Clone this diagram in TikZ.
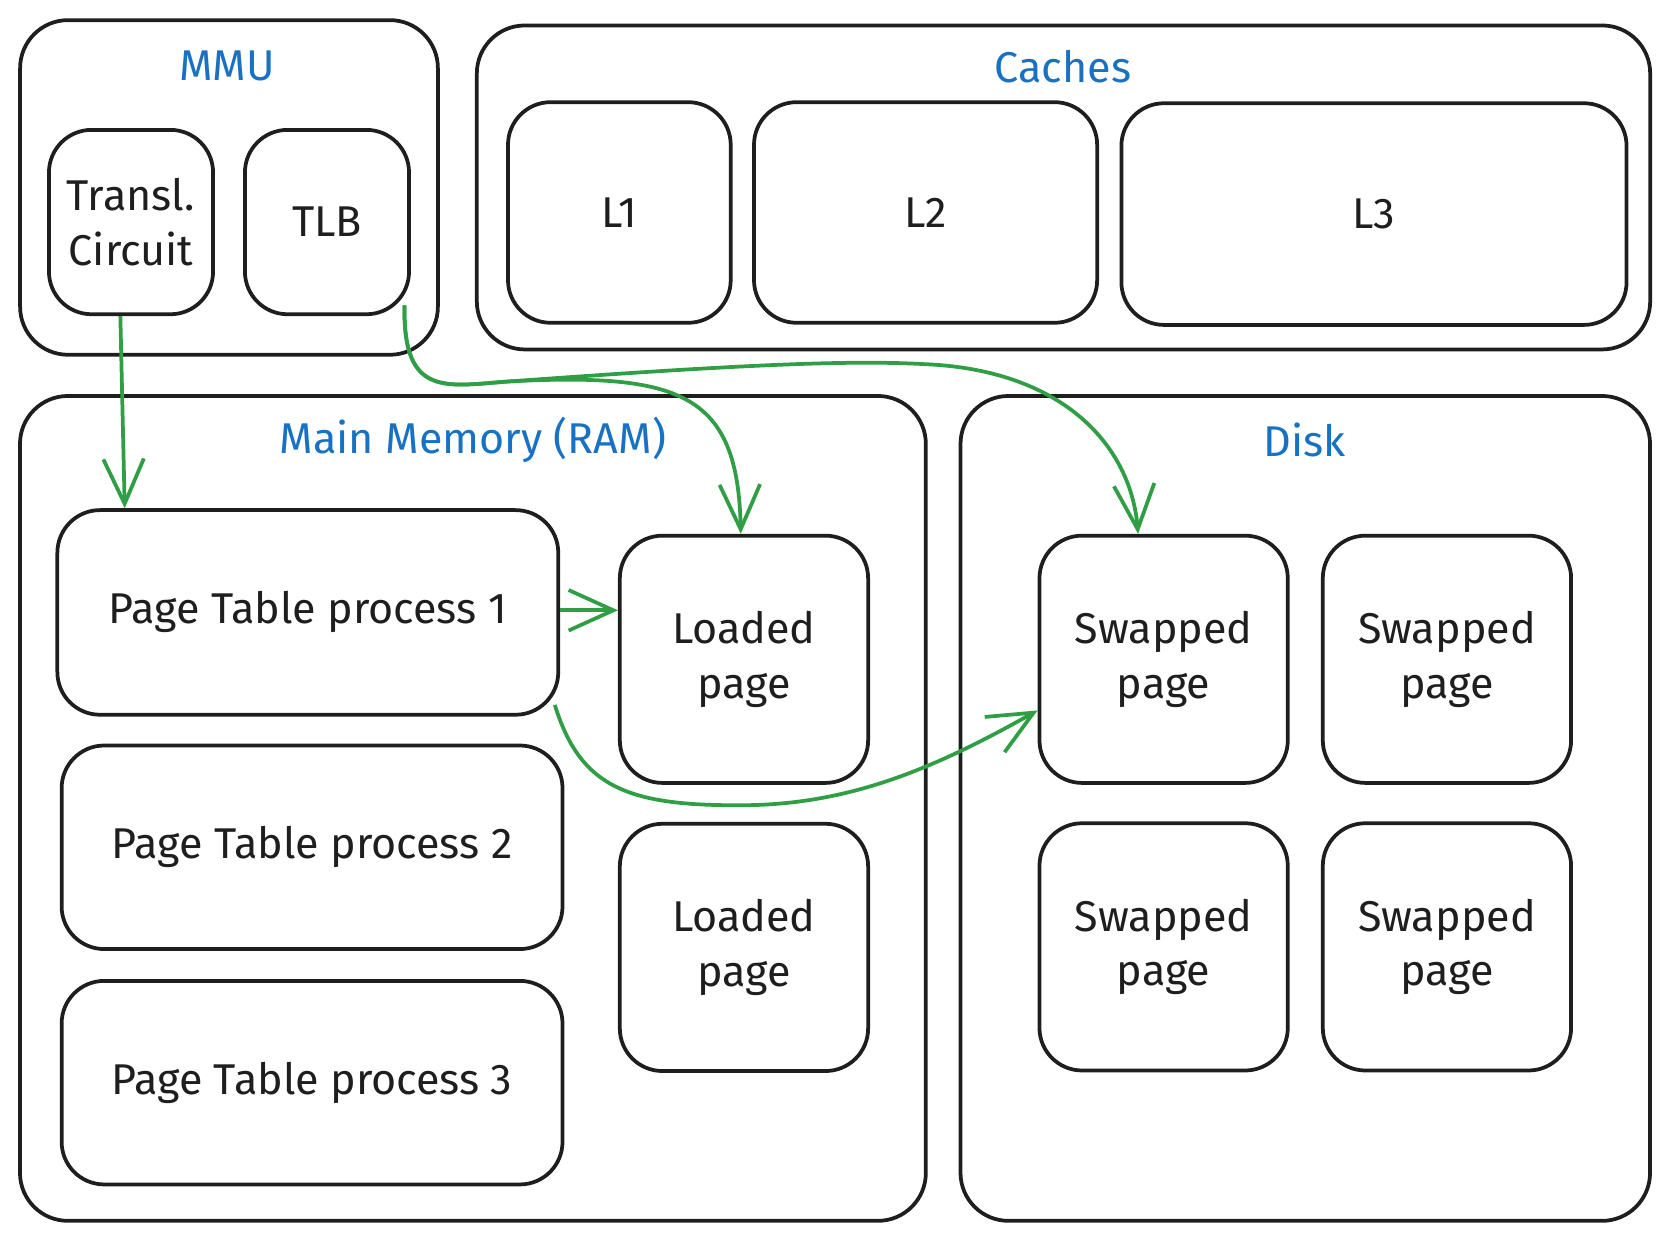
\documentclass[tikz,border=0pt]{standalone}
\usepackage{fontspec}
\setmainfont{Fira Sans}
\usepackage{tikz}
\usetikzlibrary{calc,arrows.meta}

\definecolor{inkblack}{HTML}{1E1E1E}
\definecolor{arrgreen}{HTML}{2F9E44}
\definecolor{titleblue}{HTML}{1971C2}

\tikzset{
    box/.style={draw=inkblack, text=inkblack, line width=1pt, rounded corners=0.4cm, align=center, inner sep=0pt, font=\fontsize{11.5}{14.5}\selectfont},
    group/.style={box, rounded corners=0.45cm},
    grouptitle/.style={text=titleblue, font=\fontsize{11.5}{14}\selectfont},
    arr/.style={-{Straight Barb[length=0.42cm,width=0.38cm]}, draw=arrgreen, line width=1pt},
}

\begin{document}
\begin{tikzpicture}[x=0.01cm, y=-0.01cm]
            \useasboundingbox (0,0) rectangle (1567,1164);

            \node[group, minimum width=3.92cm, minimum height=3.14cm] (mmu) at (215,176) {}; % MMU
            \node[grouptitle] (mmut) at (213,62) {MMU};
            \node[box, minimum width=1.54cm, minimum height=1.73cm] (tr) at (123,208.5) {Transl.\\Circuit};
            \node[box, minimum width=1.54cm, minimum height=1.73cm] (tlb) at (307,208.5) {TLB};

            \node[group, minimum width=11.01cm, minimum height=3.04cm] (cache) at (998.5,176) {}; % Caches
            \node[grouptitle] (cachet) at (998,63) {Caches};
            \node[box, minimum width=2.09cm, minimum height=2.07cm] (l1) at (581.5,199.5) {L1};
            \node[box, minimum width=3.22cm, minimum height=2.07cm] (l2) at (869,199.5) {L2};
            \node[box, minimum width=4.74cm, minimum height=2.08cm] (l3) at (1290,201) {L3};

            \node[group, minimum width=8.50cm, minimum height=7.74cm] (ram) at (444,759) {}; % RAM
            \node[grouptitle] (ramt) at (444,413) {Main Memory (RAM)};
            \node[box, minimum width=4.70cm, minimum height=1.92cm] (pt1) at (289,575) {Page Table process 1};
            \node[box, minimum width=4.70cm, minimum height=1.91cm] (pt2) at (293,795.5) {Page Table process 2};
            \node[box, minimum width=4.70cm, minimum height=1.91cm] (pt3) at (293,1016.5) {Page Table process 3};
            \node[box, minimum width=2.33cm, minimum height=2.32cm] (ld1) at (698.5,619) {Loaded\\page};
            \node[box, minimum width=2.33cm, minimum height=2.32cm] (ld2) at (698.5,889.5) {Loaded\\page};

            \node[group, minimum width=6.47cm, minimum height=7.74cm] (disk) at (1225.5,759) {}; % Disk
            \node[grouptitle] (diskt) at (1225,413) {Disk};
            \node[box, minimum width=2.33cm, minimum height=2.32cm] (sw1) at (1092.5,619) {Swapped\\page};
            \node[box, minimum width=2.33cm, minimum height=2.32cm] (sw2) at (1358.5,619) {Swapped\\page};
            \node[box, minimum width=2.33cm, minimum height=2.32cm] (sw3) at (1092.5,889) {Swapped\\page};
            \node[box, minimum width=2.33cm, minimum height=2.32cm] (sw4) at (1358.5,889) {Swapped\\page};

            \coordinate (tlbout) at ($(tlb.south east)+(-6,-10)$);
            \draw[arr] ($(tr.south)+(-10,0)$) -- ($(pt1.north west)+(65,0)$); % Transl -> PT1
            \draw[arr] (tlbout) .. controls (378,375) and (420,362) .. (480,358) .. controls (640,350) and (693,370) .. ($(ld1.north)+(-3,0)$); % TLB -> loaded
            \draw[arr] (tlbout) .. controls (378,375) and (420,362) .. (480,358) .. controls (700,342) and (800,338) .. (870,342) .. controls (1000,348) and (1062,420) .. ($(sw1.north)+(-24,0)$); % TLB -> swapped
            \draw[arr] ($(pt1.east)+(0,-2)$) -- ($(pt1.east -| ld1.west)+(0,-2)$); % PT1 -> loaded
            \draw[arr] ($(pt1.south east)+(-5,-11)$) .. controls (545,740) and (590,757) .. (700,756) .. controls (800,755) and (880,720) .. ($(sw1.west)+(0,48)$); % PT1 -> swapped

        \end{tikzpicture}
\end{document}
